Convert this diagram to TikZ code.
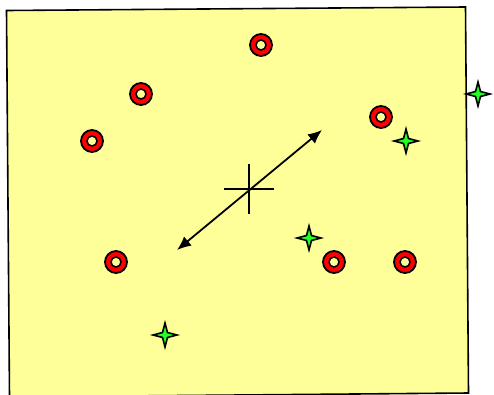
\documentclass[tikz,border=0pt]{standalone}
\usetikzlibrary{arrows.meta}
\definecolor{bgyellow}{HTML}{FFFF99}
\definecolor{ringred}{HTML}{FF0000}
\definecolor{stargreen}{HTML}{22FF22}
\tikzset{
  ringouter/.style={draw=black, line width=1.8pt, fill=ringred},
  ringinner/.style={draw=black, line width=1.5pt, fill=bgyellow},
  starshape/.style={draw=black, line width=1.6pt, fill=stargreen, line join=miter},
  crossline/.style={draw=black, line width=1.5pt},
  dblarrow/.style={draw=black, line width=1.8pt, {Latex[length=14pt,width=12pt]}-{Latex[length=14pt,width=12pt]}}
}
\newcommand{\myring}[2]{%
  \fill[ringouter] (#1,#2) circle (11);
  \fill[ringinner] (#1,#2) circle (5);
}
\newcommand{\mystar}[2]{%
  \filldraw[starshape] (#1,#2) ++(0,12) -- ++(-2.5,-9.5) -- ++(-9.5,-2.5) -- ++(9.5,-2.5) -- ++(2.5,-9.5) -- ++(2.5,9.5) -- ++(9.5,2.5) -- ++(-9.5,2.5) -- cycle;
}
\begin{document}
\begin{tikzpicture}[x=1pt,y=-1pt]
\useasboundingbox (0,0) rectangle (494,394);
\filldraw[fill=bgyellow, draw=black, line width=1.6pt] (6.5,10.5) -- (465.5,7) -- (468.5,393) -- (9.5,397) -- cycle;
\myring{261}{45}
\myring{141}{94}
\myring{92}{141}
\myring{381}{117}
\myring{116}{262}
\myring{334}{262}
\myring{405}{262}
\mystar{478}{94}
\mystar{406}{141}
\mystar{309}{238}
\mystar{165}{335}
\coordinate (c) at (249,189);
\draw[crossline] (224,189) -- (274,189);
\draw[crossline] (249,164) -- (249,214);
\coordinate (a1) at (177,250);
\coordinate (a2) at (322,130);
\draw[dblarrow] (a1) -- (a2);
\end{tikzpicture}
\end{document}
